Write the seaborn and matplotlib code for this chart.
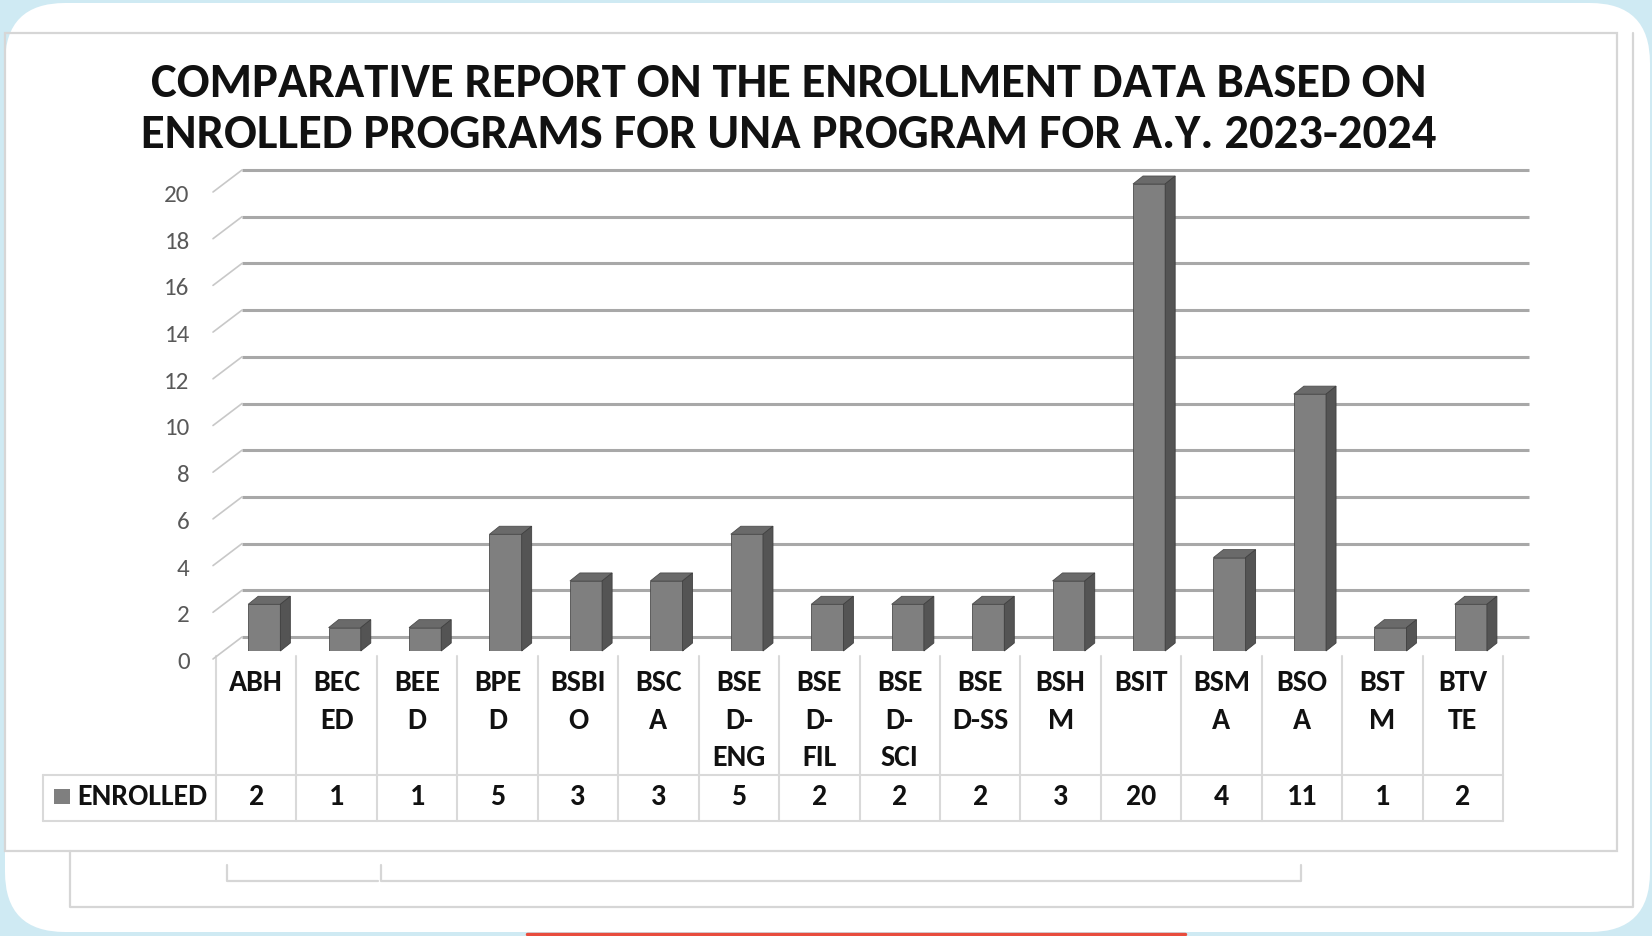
import pandas as pd
import matplotlib
matplotlib.use("Agg")
import matplotlib.pyplot as plt
import seaborn as sns
from matplotlib import font_manager
from matplotlib.patches import Polygon, Rectangle, FancyBboxPatch
from matplotlib.lines import Line2D
from matplotlib.transforms import offset_copy, IdentityTransform

# ---------------------------
#  Data
# ---------------------------
programs = ["ABH", "BECED", "BEED", "BPED", "BSBIO", "BSCA", "BSED-ENG", "BSED-FIL",
            "BSED-SCI", "BSED-SS", "BSHM", "BSIT", "BSMA", "BSOA", "BSTM", "BTVTE"]
col_labels = ["ABH", "BEC\nED", "BEE\nD", "BPE\nD", "BSBI\nO", "BSC\nA", "BSE\nD-\nENG",
              "BSE\nD-\nFIL", "BSE\nD-\nSCI", "BSE\nD-SS", "BSH\nM", "BSIT", "BSM\nA",
              "BSO\nA", "BST\nM", "BTV\nTE"]
enrolled = [2, 1, 1, 5, 3, 3, 5, 2, 2, 2, 3, 20, 4, 11, 1, 2]
series_name = "ENROLLED"
y_ticks = list(range(0, 21, 2))
title_lines = ["COMPARATIVE REPORT ON THE ENROLLMENT DATA BASED ON",
               "ENROLLED PROGRAMS FOR UNA PROGRAM FOR A.Y. 2023-2024"]

df = pd.DataFrame({"Program": programs, "Enrolled": enrolled})

# ---------------------------
#  Fonts (Calibri look-alike if present, else condensed DejaVu)
# ---------------------------
sns.set_theme(style="white")
fams = {f.name for f in font_manager.fontManager.ttflist}
if 'Carlito' in fams:
    plt.rcParams['font.family'] = ['Carlito', 'DejaVu Sans']
    fs_title, fs_cell, fs_tick, lsp = 35, 21.5, 18, 1.55
else:
    plt.rcParams['font.family'] = ['DejaVu Sans']
    plt.rcParams['font.stretch'] = 'condensed'
    fs_title, fs_cell, fs_tick, lsp = 29.5, 17.5, 14, 1.6

W, H = 1652, 937
fig = plt.figure(figsize=(W / 100, H / 100), dpi=100)
fig.patch.set_facecolor('#cfeaf3')
ident = IdentityTransform()


def px(x, y_top):
    # pixel coords measured from the top-left
    return (x, H - y_top)


fig.add_artist(FancyBboxPatch(px(5, 933), 1645, 929, boxstyle="round,pad=0,rounding_size=60",
                              transform=ident, fc='white', ec='none', zorder=0))

frame_col = '#d6d6d6'
fig.add_artist(Rectangle(px(5, 852), 1612, 818, transform=ident, fill=False, ec=frame_col, lw=1.6, zorder=0.5))
for xs, ys in [([70, 70, 1633, 1633], [852, 908, 908, 34]),
               ([227, 227, 378], [866, 882, 882]),
               ([381, 381, 1301, 1301], [866, 882, 882, 866])]:
    fig.add_artist(Line2D(xs, [H - y for y in ys], transform=ident, color=frame_col, lw=1.6, zorder=0.5))
fig.add_artist(Line2D([527, 1185], [H - 935, H - 935], transform=ident, color='#e84c3d', lw=2.5, zorder=0.5))

# ---------------------------
#  Axes
# ---------------------------
ax_l, ax_r, ax_b, ax_t = 216, 1503, 652, 185
ax = fig.add_axes([ax_l / W, (H - ax_b) / H, (ax_r - ax_l) / W, (ax_b - ax_t) / H])
ax.patch.set_alpha(0)

sns.barplot(data=df, x="Program", y="Enrolled", color="#7f7f7f", saturation=1, width=0.4,
            edgecolor='#4d4d4d', linewidth=0.6, ax=ax, zorder=3)
ax.set_xlim(-0.6, 15.4)
ax.set_ylim(0, 20)
ax.set_xticks([])
ax.set_yticks(y_ticks)
ax.set_xlabel("")
ax.set_ylabel("")
for s in ax.spines.values():
    s.set_visible(False)
ax.tick_params(axis='y', length=0, pad=19, labelsize=fs_tick, labelcolor='#595959')
for t in ax.get_yticklabels():
    t.set_va('top')

# back wall gridlines (3D look)
dx_w, dy_w = 26, 14
ax.hlines(y_ticks, -0.6, 15.4, colors='#a8a8a8', lw=2.2, zorder=1, clip_on=False,
          transform=offset_copy(ax.transData, fig=fig, x=dx_w, y=dy_w, units='dots'))
for yv in y_ticks:
    xd, yd = ax.transData.transform((-0.6, yv))
    fig.add_artist(Line2D([xd - 3, xd + dx_w], [yd - 8, yd + dy_w], transform=ident,
                          color='#c8c8c8', lw=1.2, zorder=0.8))

# bar depth faces
dx_b, dy_b = 10, 8
for p in ax.patches:
    x0, w, h = p.get_x(), p.get_width(), p.get_height()
    (xl, yb), (xr, yt) = ax.transData.transform([(x0, 0), (x0 + w, h)])
    top = Polygon([(xl, yt), (xr, yt), (xr + dx_b, yt + dy_b), (xl + dx_b, yt + dy_b)],
                  closed=True, transform=ident, fc='#6a6a6a', ec='#4d4d4d', lw=0.6, zorder=2)
    side = Polygon([(xr, yb), (xr + dx_b, yb + dy_b), (xr + dx_b, yt + dy_b), (xr, yt)],
                   closed=True, transform=ident, fc='#545454', ec='#404040', lw=0.6, zorder=2)
    fig.add_artist(top)
    fig.add_artist(side)

# ---------------------------
#  Data table under the chart
# ---------------------------
def ay(y_top):
    return (ax_b - y_top) / (ax_b - ax_t)


def axx(x):
    return (x - ax_l) / (ax_r - ax_l)


n = len(programs)
line_col = '#d9d9d9'
for i in range(n + 1):
    ax.add_line(Line2D([i / n, i / n], [ay(657), ay(822)], transform=ax.transAxes,
                       color=line_col, lw=1.5, clip_on=False))
for yy in [776, 822]:
    ax.add_line(Line2D([axx(43), 1], [ay(yy), ay(yy)], transform=ax.transAxes,
                       color=line_col, lw=1.5, clip_on=False))
ax.add_line(Line2D([axx(43), axx(43)], [ay(776), ay(822)], transform=ax.transAxes,
                   color=line_col, lw=1.5, clip_on=False))

for i, (lab, v) in enumerate(zip(col_labels, enrolled)):
    ax.text((i + 0.5) / n, ay(670), lab, ha='center', va='top', fontsize=fs_cell, fontweight='bold',
            linespacing=lsp, color='#111111', transform=ax.transAxes, clip_on=False)
    ax.text((i + 0.5) / n, ay(797), str(v), ha='center', va='center', fontsize=fs_cell,
            fontweight='bold', color='#111111', transform=ax.transAxes, clip_on=False)

fig.add_artist(Rectangle(px(54, 805), 16, 15, transform=ident, fc='#7f7f7f', ec='none', zorder=2))
fig.text(77 / W, 1 - 797 / H, series_name, ha='left', va='center', fontsize=fs_cell,
         fontweight='bold', color='#111111')

# ---------------------------
#  Title
# ---------------------------
for yy, line in zip([84, 135], title_lines):
    fig.text(789 / W, 1 - yy / H, line, ha='center', va='center', fontsize=fs_title,
             fontweight='bold', color='#111111')

fig.savefig("out.png", dpi=100, facecolor=fig.get_facecolor())
